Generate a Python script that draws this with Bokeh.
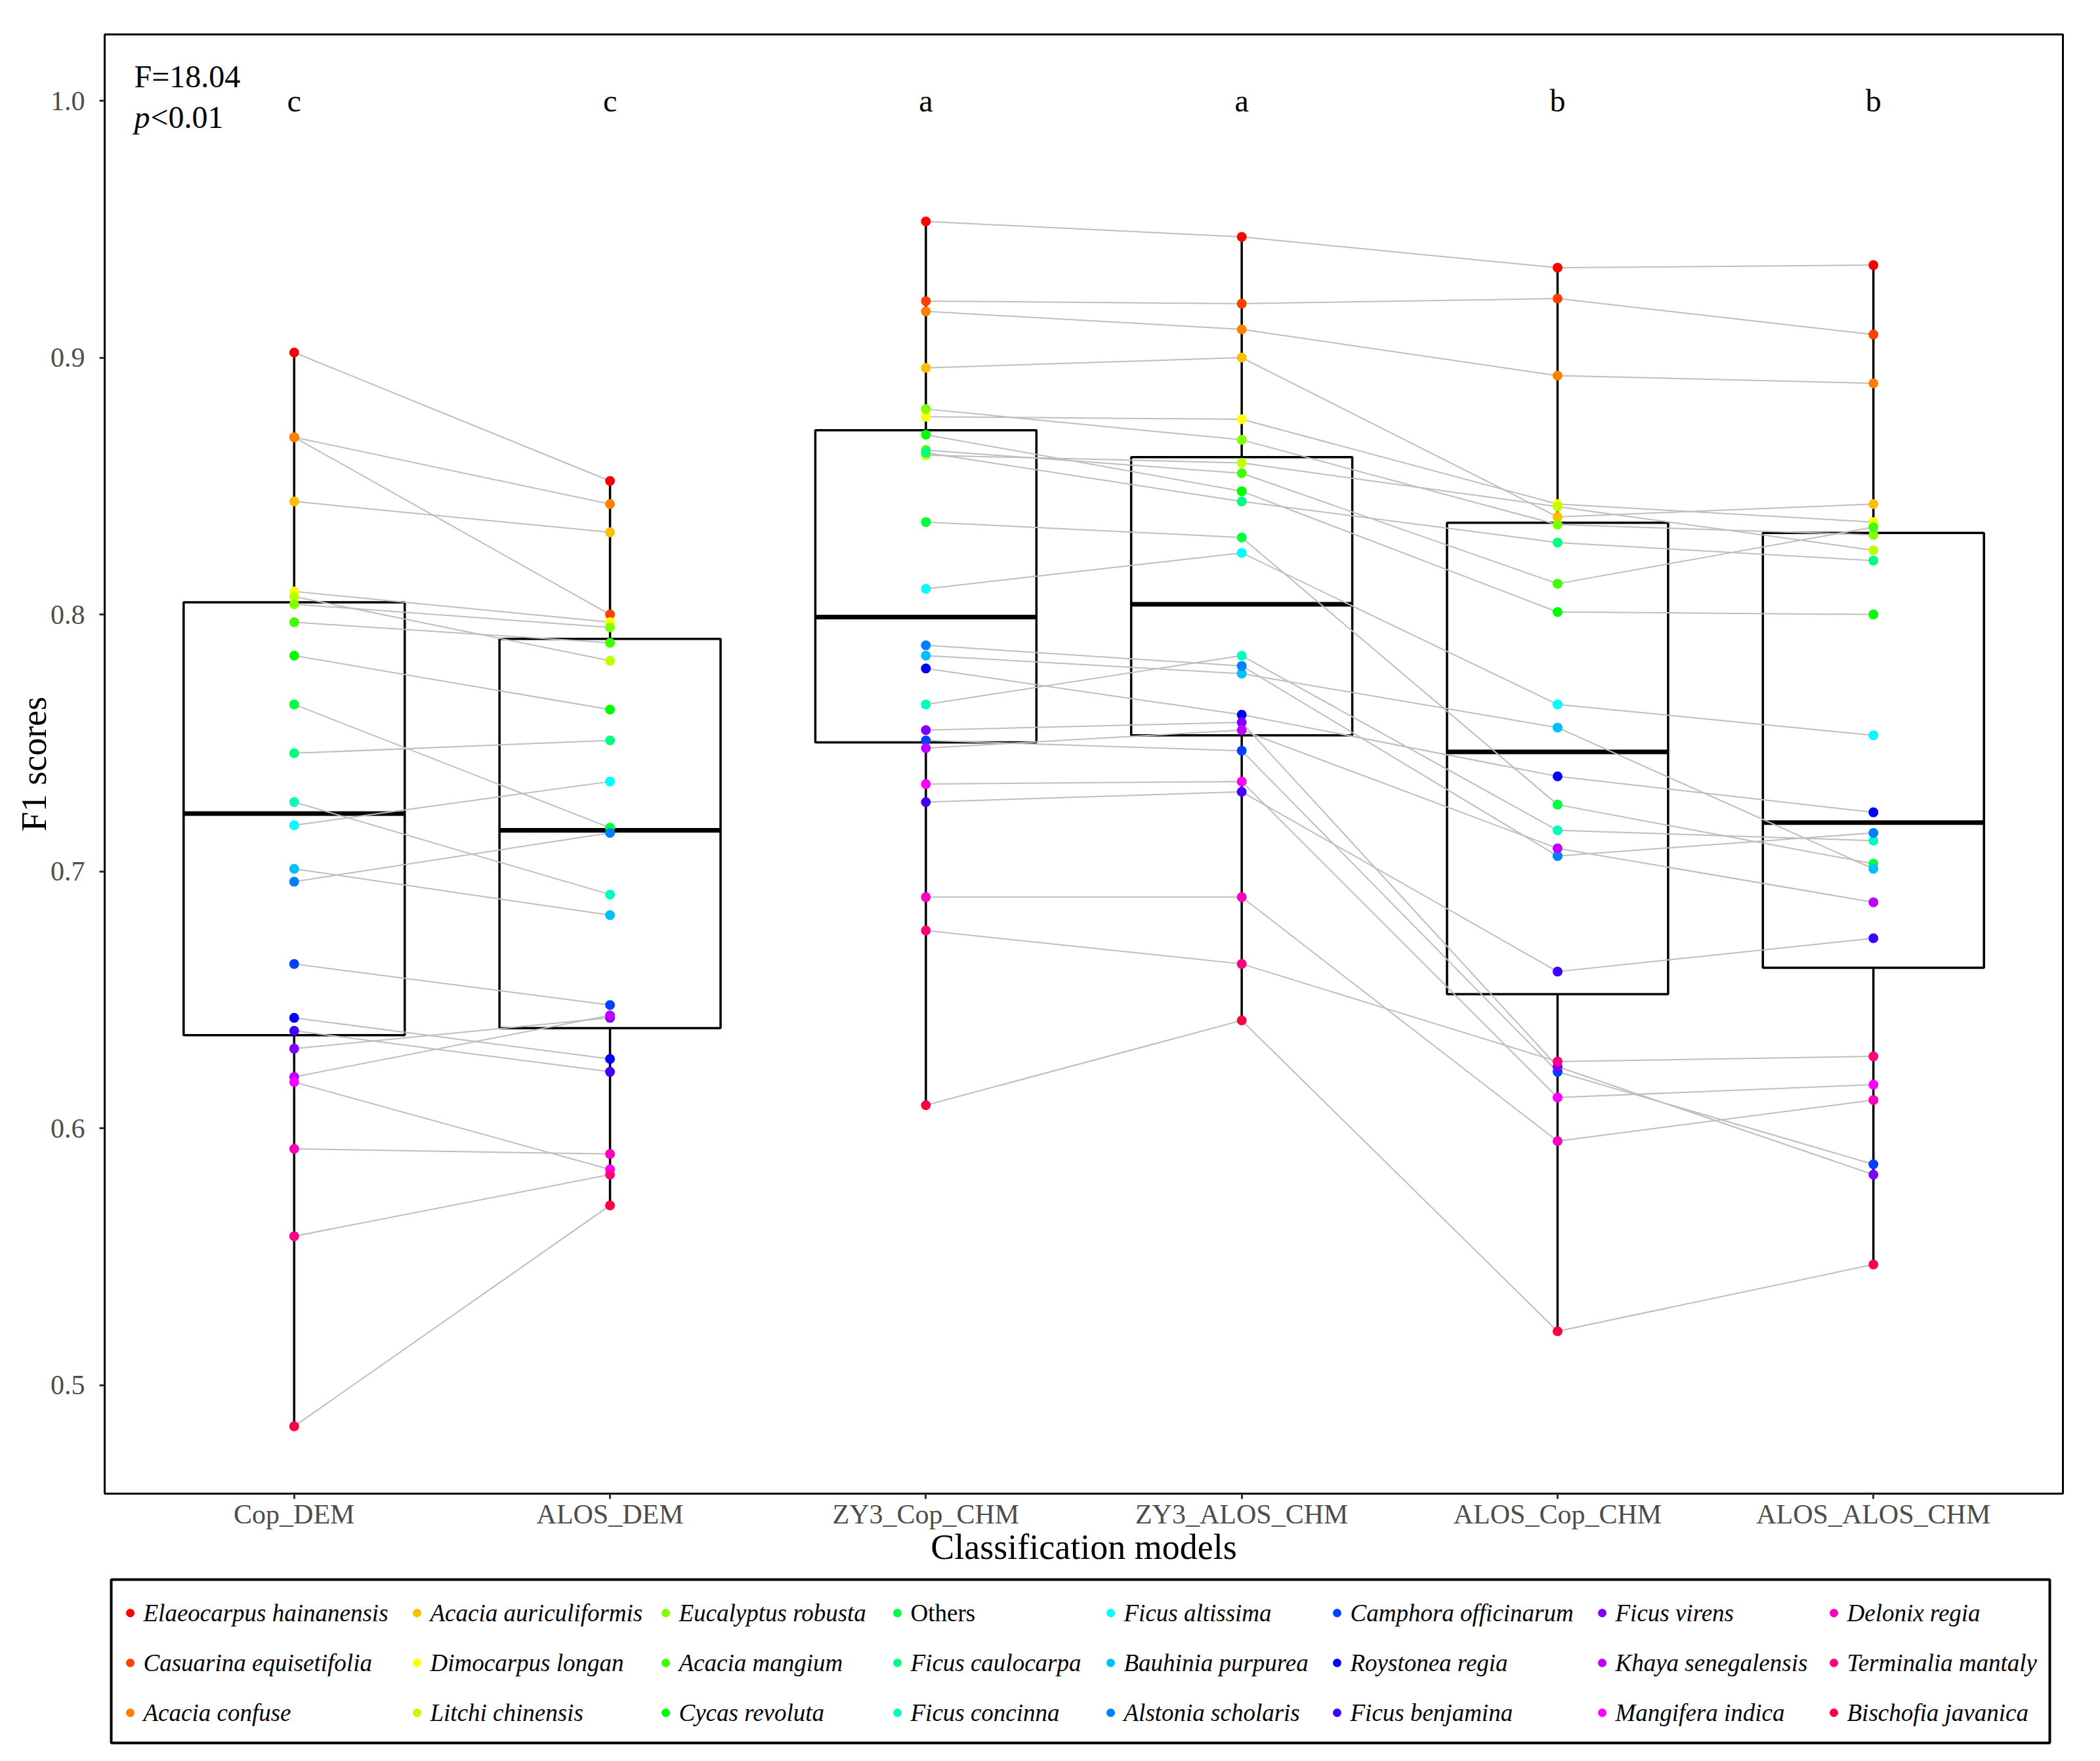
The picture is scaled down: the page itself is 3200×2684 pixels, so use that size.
import numpy as np
from bokeh.plotting import figure
from bokeh.models import ColumnDataSource, Range1d, FixedTicker, PrintfTickFormatter, Spacer
from bokeh.layouts import column, row
from bokeh.core.properties import value
from bokeh.embed import file_html
from bokeh.resources import INLINE

FONT = "Liberation Serif"

models = ["Cop_DEM", "ALOS_DEM", "ZY3_Cop_CHM", "ZY3_ALOS_CHM", "ALOS_Cop_CHM", "ALOS_ALOS_CHM"]

species = ["Elaeocarpus hainanensis", "Casuarina equisetifolia", "Acacia confuse",
           "Acacia auriculiformis", "Dimocarpus longan", "Litchi chinensis",
           "Eucalyptus robusta", "Acacia mangium", "Cycas revoluta",
           "Others", "Ficus caulocarpa", "Ficus concinna",
           "Ficus altissima", "Bauhinia purpurea", "Alstonia scholaris",
           "Camphora officinarum", "Roystonea regia", "Ficus benjamina",
           "Ficus virens", "Khaya senegalensis", "Mangifera indica",
           "Delonix regia", "Terminalia mantaly", "Bischofia javanica"]

colors = ["#FF0000", "#FF4000", "#FF8000", "#FFBF00", "#FFFF00", "#BFFF00",
          "#80FF00", "#40FF00", "#00FF00", "#00FF40", "#00FF80", "#00FFBF",
          "#00FFFF", "#00BFFF", "#0080FF", "#0040FF", "#0000FF", "#4000FF",
          "#8000FF", "#BF00FF", "#FF00FF", "#FF00BF", "#FF0080", "#FF0040"]

# F1 scores per model, in species order
cop_dem = [0.902, 0.869, 0.869, 0.844, 0.809, 0.807, 0.804, 0.797, 0.784, 0.765, 0.746, 0.727,
           0.718, 0.701, 0.696, 0.664, 0.643, 0.638, 0.631, 0.620, 0.618, 0.592, 0.558, 0.484]
alos_dem = [0.852, 0.800, 0.843, 0.832, 0.797, 0.782, 0.795, 0.789, 0.763, 0.717, 0.751, 0.691,
            0.735, 0.683, 0.715, 0.648, 0.627, 0.622, 0.643, 0.644, 0.584, 0.590, 0.582, 0.570]
zy3_cop_chm = [0.953, 0.922, 0.918, 0.896, 0.877, 0.862, 0.880, 0.864, 0.870, 0.836, 0.863, 0.765,
               0.810, 0.784, 0.788, 0.751, 0.779, 0.727, 0.755, 0.748, 0.734, 0.690, 0.677, 0.609]
zy3_alos_chm = [0.947, 0.921, 0.911, 0.900, 0.876, 0.859, 0.868, 0.855, 0.848, 0.830, 0.844, 0.784,
                0.824, 0.777, 0.780, 0.747, 0.761, 0.731, 0.758, 0.755, 0.735, 0.690, 0.664, 0.642]
alos_cop_chm = [0.935, 0.923, 0.893, 0.838, 0.843, 0.842, 0.835, 0.812, 0.801, 0.726, 0.828, 0.716,
                0.765, 0.756, 0.706, 0.622, 0.737, 0.661, 0.624, 0.709, 0.612, 0.595, 0.626, 0.521]
alos_alos_chm = [0.936, 0.909, 0.890, 0.843, 0.836, 0.825, 0.831, 0.834, 0.800, 0.703, 0.821, 0.712,
                 0.753, 0.701, 0.715, 0.586, 0.723, 0.674, 0.582, 0.688, 0.617, 0.611, 0.628, 0.547]

letters = ["c", "c", "a", "a", "b", "b"]
f_text = "F=18.04"
p_text = "<0.01"
y_ticks = [0.5, 0.6, 0.7, 0.8, 0.9, 1.0]
# models joined by the paired lines (DEM pair, CHM group)
line_groups = [[0, 1], [2, 3, 4, 5]]

series = [cop_dem, alos_dem, zy3_cop_chm, zy3_alos_chm, alos_cop_chm, alos_alos_chm]
xpos = list(range(1, len(models) + 1))

p = figure(frame_width=2984, frame_height=2224,
           x_range=Range1d(0.4, 6.6), y_range=Range1d(0.4578, 1.0258),
           output_backend="svg", toolbar_location=None, title=None,
           min_border_left=159, min_border_right=41, min_border_top=52, min_border_bottom=120)
p.background_fill_color = "white"
p.border_fill_color = "white"
p.outline_line_color = "black"
p.outline_line_width = 3
p.xgrid.visible = False
p.ygrid.visible = False

# box statistics
bx, bl, br, q1s, meds, q3s, los, his = [], [], [], [], [], [], [], []
for i, v in enumerate(series):
    a = np.array(v)
    q1, med, q3 = np.percentile(a, [25, 50, 75])
    iqr = q3 - q1
    lo = a[a >= q1 - 1.5 * iqr].min()
    hi = a[a <= q3 + 1.5 * iqr].max()
    bx.append(xpos[i]); bl.append(xpos[i] - 0.35); br.append(xpos[i] + 0.35)
    q1s.append(q1); meds.append(med); q3s.append(q3); los.append(lo); his.append(hi)
bsrc = ColumnDataSource(dict(x=bx, l=bl, r=br, q1=q1s, med=meds, q3=q3s, lo=los, hi=his))
p.segment(x0="x", y0="q3", x1="x", y1="hi", source=bsrc, line_color="black", line_width=3.5)
p.segment(x0="x", y0="q1", x1="x", y1="lo", source=bsrc, line_color="black", line_width=3.5)
p.quad(left="l", right="r", bottom="q1", top="q3", source=bsrc,
       fill_color=None, line_color="black", line_width=3.5)
p.segment(x0="l", y0="med", x1="r", y1="med", source=bsrc, line_color="black", line_width=7)

# paired lines
line_xs, line_ys = [], []
for grp in line_groups:
    for s in range(len(species)):
        line_xs.append([xpos[m] for m in grp])
        line_ys.append([series[m][s] for m in grp])
p.multi_line(xs=line_xs, ys=line_ys, line_color="#BEBEBE", line_width=2)

# points
px, py, pc = [], [], []
for m in range(len(models)):
    for s in range(len(species)):
        px.append(xpos[m]); py.append(series[m][s]); pc.append(colors[s])
p.scatter(x=px, y=py, fill_color=pc, line_color=None, size=15)

# letters
p.text(x=xpos, y=[1.0] * len(xpos), text=letters, text_align="center", text_baseline="middle",
       text_font=value(FONT), text_font_size="48px", text_color="black")
p.text(x=[0.4935], y=[1.0094], text=[f_text], text_align="left", text_baseline="middle",
       text_font=value(FONT), text_font_size="48px", text_color="black")
p.text(x=[0.4935], y=[0.9936], text=["p"], text_align="left", text_baseline="middle",
       text_font=value(FONT), text_font_size="48px", text_font_style="italic", text_color="black")
p.text(x=[0.4935], y=[0.9936], text=[p_text], text_align="left", text_baseline="middle",
       x_offset=25, text_font=value(FONT), text_font_size="48px", text_color="black")

# axes
p.xaxis.ticker = FixedTicker(ticks=xpos)
p.xaxis.major_label_overrides = {x: m for x, m in zip(xpos, models)}
p.yaxis.ticker = FixedTicker(ticks=y_ticks)
p.yaxis.formatter = PrintfTickFormatter(format="%.1f")
for ax in (p.xaxis[0], p.yaxis[0]):
    ax.axis_line_color = None
    ax.major_tick_in = 0
    ax.major_tick_out = 8
    ax.major_tick_line_color = "#333333"
    ax.major_tick_line_width = 3
    ax.minor_tick_line_color = None
    ax.major_label_text_font = FONT
    ax.major_label_text_font_size = "42px"
    ax.major_label_text_color = "#4D4D4D"
    ax.axis_label_text_font = FONT
    ax.axis_label_text_font_size = "54px"
    ax.axis_label_text_font_style = "normal"
    ax.axis_label_text_color = "black"
p.xaxis.axis_label = "Classification models"
p.yaxis.axis_label = "F1 scores"
p.xaxis.major_label_standoff = 0
p.xaxis.axis_label_standoff = -6
p.yaxis.major_label_standoff = 22
p.yaxis.axis_label_standoff = -8

# legend panel
LW, LH = 2954, 249
leg = figure(width=LW + 6, height=LH + 6, x_range=Range1d(0, LW), y_range=Range1d(0, LH),
             output_backend="svg", toolbar_location=None, title=None,
             x_axis_location=None, y_axis_location=None, min_border=3)
leg.xgrid.visible = False
leg.ygrid.visible = False
leg.outline_line_color = "black"
leg.outline_line_width = 4
col_x = [29, 466, 845, 1198, 1523, 1868, 2272, 2625]
row_y = [198, 122, 46]
lx = [col_x[k // 3] for k in range(len(species))]
ly = [row_y[k % 3] for k in range(len(species))]
styles = ["normal" if s == "Others" else "italic" for s in species]
lsrc = ColumnDataSource(dict(x=lx, y=ly, c=colors, t=species, st=styles))
leg.scatter(x="x", y="y", fill_color="c", line_color=None, size=13, source=lsrc)
leg.text(x="x", y="y", text="t", source=lsrc, x_offset=20, text_align="left",
         text_baseline="middle", text_font=value(FONT), text_font_size="37px",
         text_font_style="st", text_color="black")

layout = column(p, Spacer(height=8), row(Spacer(width=166), leg))
open("out.html", "w").write(file_html(layout, INLINE))
